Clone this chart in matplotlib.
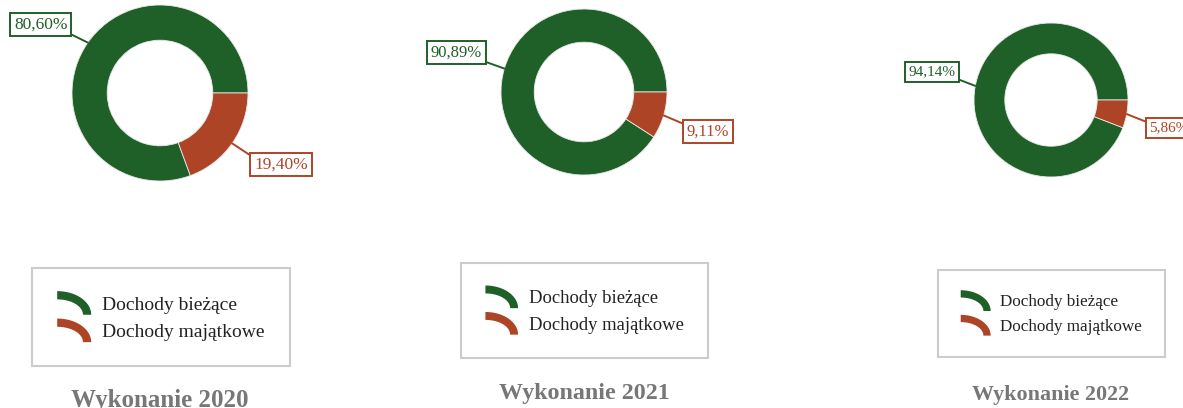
import numpy as np
import matplotlib
matplotlib.use('Agg')
import matplotlib.pyplot as plt
from matplotlib.patches import Wedge, Polygon
from matplotlib.legend_handler import HandlerPatch

# dane
categories = ['Dochody bieżące', 'Dochody majątkowe']
years = ['2020', '2021', '2022']
biezace = [80.60, 90.89, 94.14]
majatkowe = [19.40, 9.11, 5.86]
colors = ['#1f6029', '#ad4426']

# uklad w pikselach (od gory): srodek, promien, skala, legenda, tytul, offsety etykiet
W, H = 1183, 408
centers = [(160, 93), (584, 92), (1051, 100)]
radii = [88, 83, 77]
scales = [1.0, 0.96, 0.88]
legend_centers = [(161, 317), (584.5, 310.5), (1051.5, 313.5)]
title_base = [407, 399, 400]
label_offsets = [[(-47, 18), (49, -21)], [(-48, 16), (44, -16)], [(-43, 14), (42, -14)]]

plt.rcParams['font.family'] = ['Liberation Serif', 'DejaVu Serif']


# znacznik legendy w ksztalcie luku
class ArcHandler(HandlerPatch):
    def create_artists(self, legend, orig_handle, xdescent, ydescent, width, height, fontsize, trans):
        t = np.linspace(0, np.pi / 2, 40)
        th = 0.42 * height
        x0, y0 = -xdescent, -ydescent - 0.1 * height
        hh = height * 1.2
        outer = np.column_stack([x0 + width * np.cos(t), y0 + hh * np.sin(t)])
        inner = np.column_stack([x0 + (width - th) * np.cos(t[::-1]), y0 + (hh - th) * np.sin(t[::-1])])
        p = Polygon(np.vstack([outer, inner]), closed=True, facecolor=orig_handle.get_facecolor(),
                    edgecolor='none', transform=trans)
        return [p]


fig = plt.figure(figsize=(W / 100, H / 100), dpi=100)

for i in range(3):
    cx, cy = centers[i]
    R = radii[i]
    s = scales[i]
    ax = fig.add_axes([(cx - R) / W, (H - cy - R) / H, 2 * R / W, 2 * R / H])
    vals = [biezace[i], majatkowe[i]]
    wedges, _ = ax.pie(vals, colors=colors, startangle=0, counterclock=True, radius=1,
                       wedgeprops=dict(width=0.4, edgecolor='#e8e8e8', linewidth=0.6))
    ax.set_xlim(-1, 1)
    ax.set_ylim(-1, 1)
    ax.axis('off')

    # etykiety procentowe
    for j, w in enumerate(wedges):
        ang = np.deg2rad((w.theta1 + w.theta2) / 2)
        txt = f'{vals[j]:.2f}%'.replace('.', ',')
        rel = (1, 0) if j == 0 else (0, 0.9)
        ax.annotate(txt, xy=(np.cos(ang), np.sin(ang)), xytext=label_offsets[i][j],
                    textcoords='offset pixels', ha='center', va='center',
                    fontsize=12.5 * s, color=colors[j], annotation_clip=False,
                    bbox=dict(boxstyle='square,pad=0.22', fc='white', ec=colors[j], lw=1.4),
                    arrowprops=dict(arrowstyle='-', color=colors[j], lw=1.4, relpos=rel,
                                    shrinkA=0, shrinkB=0))

    # legenda
    lx, ly = legend_centers[i]
    fig.legend(wedges, categories, loc='center', bbox_to_anchor=(lx / W, (H - ly) / H),
               handler_map={Wedge: ArcHandler()}, fontsize=14 * s, frameon=True,
               fancybox=False, framealpha=1, edgecolor='#cccccc', borderpad=1.3,
               handlelength=1.75, handleheight=1.18, handletextpad=0.57, labelspacing=0.36,
               labelcolor='#222222').get_frame().set_linewidth(1.5)

    fig.text(cx / W, (H - title_base[i]) / H, 'Wykonanie ' + years[i], ha='center', va='baseline',
             fontsize=18 * s, fontweight='bold', color='#777777')

fig.savefig('out.png', dpi=100)
